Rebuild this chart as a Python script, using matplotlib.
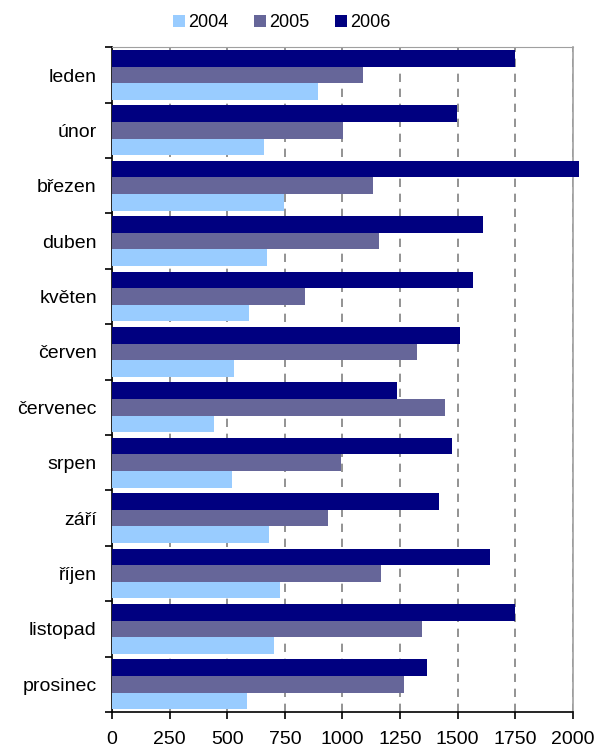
import matplotlib
matplotlib.use('Agg')
import matplotlib.pyplot as plt
import numpy as np

plt.rcParams['font.family'] = ['Liberation Sans', 'DejaVu Sans']

mesice = ['leden', 'únor', 'březen', 'duben', 'květen', 'červen',
          'červenec', 'srpen', 'září', 'říjen', 'listopad', 'prosinec']
roky = ['2004', '2005', '2006']
hodnoty_2004 = [893, 661, 748, 672, 596, 530, 441, 520, 683, 727, 705, 585]
hodnoty_2005 = [1091, 1002, 1135, 1157, 838, 1322, 1445, 993, 936, 1168, 1345, 1267]
hodnoty_2006 = [1751, 1498, 2026, 1609, 1565, 1510, 1235, 1476, 1421, 1641, 1751, 1368]
x_ticky = [0, 250, 500, 750, 1000, 1250, 1500, 1750, 2000]

barvy = {'2004': '#99CCFF', '2005': '#666699', '2006': '#000080'}

fig = plt.figure(figsize=(5.96, 7.51), dpi=100)
ax = fig.add_axes([0.188, 0.052, 0.773, 0.885])

y = np.arange(len(mesice))
vyska = 0.3
ax.barh(y - vyska, hodnoty_2006, height=vyska, color=barvy['2006'], label='2006',
        zorder=3, clip_on=False)
ax.barh(y, hodnoty_2005, height=vyska, color=barvy['2005'], label='2005', zorder=3)
ax.barh(y + vyska, hodnoty_2004, height=vyska, color=barvy['2004'], label='2004', zorder=3)

ax.set_xlim(0, 2000)
ax.set_ylim(len(mesice) - 0.5, -0.5)
ax.set_xticks(x_ticky)
ax.set_xticklabels([str(t) for t in x_ticky], fontsize=14)
ax.set_yticks(y)
ax.set_yticklabels(mesice, fontsize=14)
ax.set_yticks(np.arange(-0.5, len(mesice) + 0.5, 1), minor=True)
ax.tick_params(axis='y', which='major', length=0, pad=11)
ax.tick_params(axis='y', which='minor', length=5, width=1.2, direction='out')
ax.tick_params(axis='x', which='major', length=5, width=1.2, direction='out', pad=9)

ax.grid(axis='x', color='#808080', linestyle=(0, (5, 4)), linewidth=1.2, zorder=0)
ax.spines['left'].set_color('black')
ax.spines['left'].set_linewidth(1.2)
ax.spines['bottom'].set_color('black')
ax.spines['bottom'].set_linewidth(1.2)
ax.spines['top'].set_color('#a0a0a0')
ax.spines['right'].set_color('#a0a0a0')
ax.spines['right'].set_linewidth(1.2)

handles, labels = ax.get_legend_handles_labels()
poradi = [2, 1, 0]
fig.legend([handles[i] for i in poradi], [labels[i] for i in poradi],
           loc='center', bbox_to_anchor=(0.473, 0.97), ncol=3, frameon=False,
           fontsize=13, handlelength=0.65, handleheight=0.65, handletextpad=0.2,
           columnspacing=1.4)

fig.savefig('out.png', dpi=100)
